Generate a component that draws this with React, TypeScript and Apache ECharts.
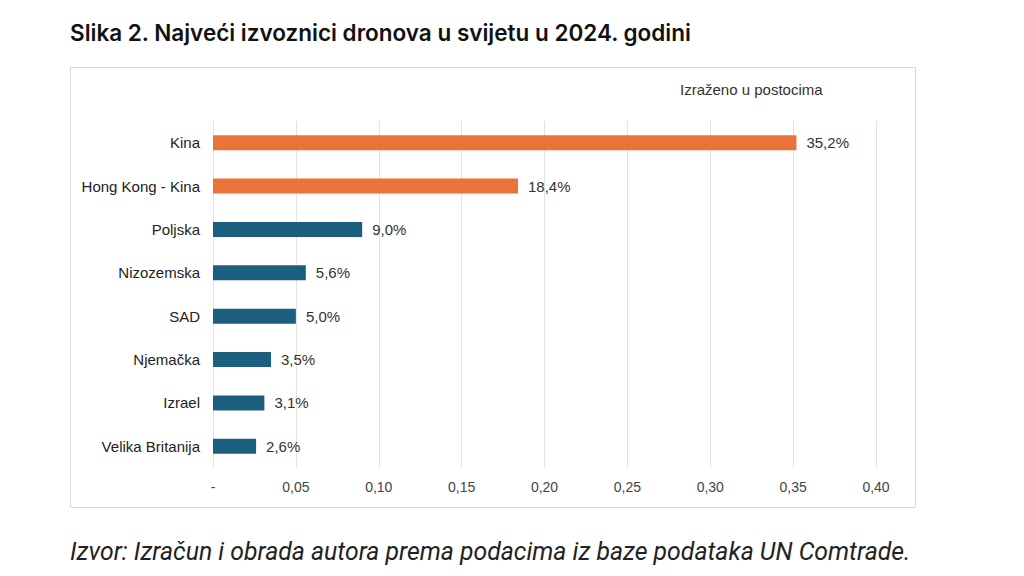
import React, { useEffect, useRef } from "react";
import * as echarts from "echarts";

const categories = ["Kina", "Hong Kong - Kina", "Poljska", "Nizozemska", "SAD", "Njemačka", "Izrael", "Velika Britanija"];
const shares = [0.352, 0.184, 0.09, 0.056, 0.05, 0.035, 0.031, 0.026];
const highlighted = ["Kina", "Hong Kong - Kina"];
const xTicks = [0, 0.05, 0.1, 0.15, 0.2, 0.25, 0.3, 0.35, 0.4];

const ORANGE = "#E9733A";
const BLUE = "#1B5E7E";

export default function App() {
  const ref = useRef<HTMLDivElement>(null);
  useEffect(() => {
    if (!ref.current) return;
    const chart = echarts.init(ref.current, undefined, { renderer: "svg" });
    chart.setOption({
      animation: false,
      backgroundColor: "#ffffff",
      title: [
        {
          text: "Slika 2. Najveći izvoznici dronova u svijetu u 2024. godini",
          left: 65,
          top: 16,
          textStyle: { fontFamily: "Inter", fontWeight: 600, fontSize: 22.5, color: "#111111" },
        },
        {
          text: "Izvor: Izračun i obrada autora prema podacima iz baze podataka UN Comtrade.",
          left: 65,
          top: 534,
          textStyle: { fontFamily: "Roboto", fontStyle: "italic", fontWeight: 400, fontSize: 24.8, color: "#222222" },
        },
        {
          text: "Izraženo u postocima",
          left: 675,
          top: 77,
          textStyle: { fontFamily: "Liberation Sans", fontWeight: 400, fontSize: 15, color: "#333333" },
        },
      ],
      graphic: [
        {
          type: "rect",
          shape: { x: 70.5, y: 67.5, width: 845, height: 440 },
          style: { fill: "none", stroke: "#d9d9d9", lineWidth: 1 },
          z: -1,
        },
      ],
      grid: { left: 213, right: 148, top: 121, bottom: 108 },
      xAxis: {
        type: "value",
        min: 0,
        max: 0.4,
        interval: 0.05,
        axisLine: { show: false },
        axisTick: { show: false },
        splitLine: { show: true, lineStyle: { color: "#e3e3e3", width: 1 } },
        axisLabel: {
          margin: 12,
          fontFamily: "Liberation Sans",
          fontSize: 14,
          color: "#444444",
          customValues: xTicks,
          formatter: (v: number) => (v === 0 ? "-" : v.toFixed(2).replace(".", ",")),
        },
      },
      yAxis: {
        type: "category",
        inverse: true,
        data: categories,
        axisLine: { show: false },
        axisTick: { show: false },
        axisLabel: { margin: 13, fontFamily: "Liberation Sans", fontSize: 15, color: "#222222" },
      },
      series: [
        {
          type: "bar",
          barWidth: 15,
          data: shares.map((v, i) => ({
            value: v,
            itemStyle: { color: highlighted.includes(categories[i]) ? ORANGE : BLUE },
          })),
          label: {
            show: true,
            position: "right",
            distance: 10,
            fontFamily: "Liberation Sans",
            fontSize: 15,
            color: "#333333",
            formatter: (p: any) => (p.value * 100).toFixed(1).replace(".", ",") + "%",
          },
        },
      ],
    });
    return () => chart.dispose();
  }, []);
  return (
    <div
      ref={ref}
      style={{ position: "fixed", left: 0, top: 0, width: 1024, height: 576, background: "#fff" }}
    />
  );
}
